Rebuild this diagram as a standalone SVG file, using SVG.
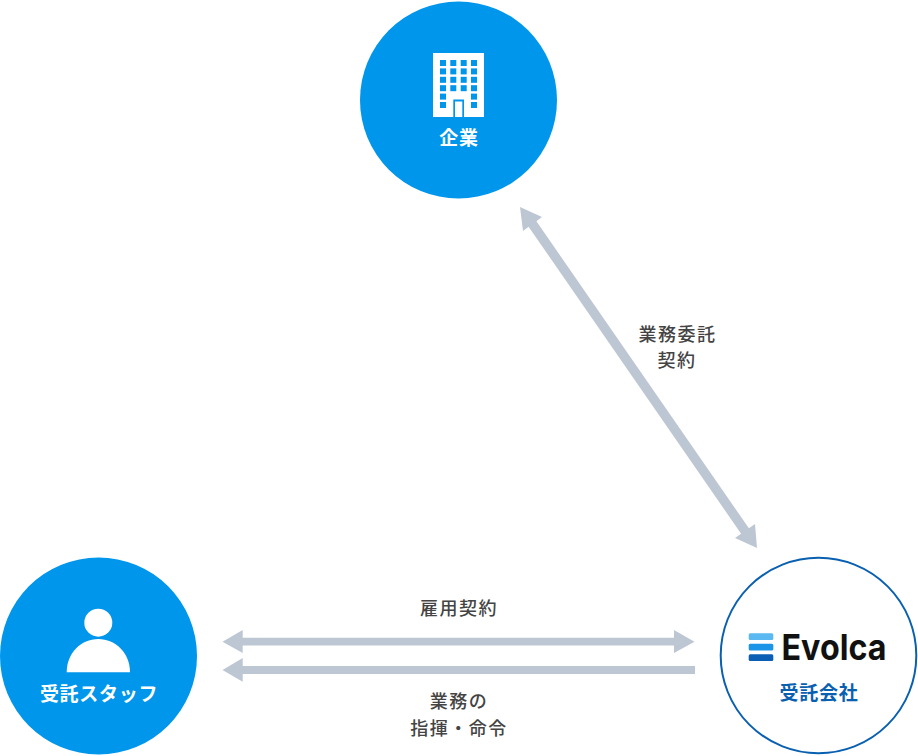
<svg xmlns="http://www.w3.org/2000/svg" width="918" height="756" viewBox="0 0 918 756">
<style>
text{font-family:"Noto Sans CJK JP","Noto Sans",sans-serif;text-anchor:middle}
.n{font-size:19px;font-weight:700;letter-spacing:0.700px;fill:#fff}
.l{font-size:18px;font-weight:500;letter-spacing:1.500px;fill:#444}
.c{fill:#0096ec}
.a{fill:#bdc7d4}
.w{fill:#fff}
</style>
<rect width="918" height="756" fill="#fff"/>
<g id="connectors">
<path class="a" d="M520 207L542 217L536.400 221.300L748.900 528.300L755 524L757 548L735 538L741.100 533.700L528.600 226.700L523 231Z"/>
<path class="a" d="M222.500 641.700L242.700 630V637.700H674V630L694.500 641.700L674 653V645.600H242.700V653Z"/>
<path class="a" d="M222.500 670L242.700 658V666H695V674H242.700V681.700Z"/>
</g>
<g id="kigyo">
<circle class="c" cx="458.500" cy="100" r="98.500"/>
<rect class="w" x="433" y="53" width="51" height="64"/>
<g class="c">
<rect x="440" y="60" width="6" height="6"/><rect x="450.300" y="60" width="6" height="6"/><rect x="460.700" y="60" width="6" height="6"/><rect x="471" y="60" width="6" height="6"/>
<rect x="440" y="68.400" width="6" height="6"/><rect x="450.300" y="68.400" width="6" height="6"/><rect x="460.700" y="68.400" width="6" height="6"/><rect x="471" y="68.400" width="6" height="6"/>
<rect x="440" y="76.800" width="6" height="6"/><rect x="450.300" y="76.800" width="6" height="6"/><rect x="460.700" y="76.800" width="6" height="6"/><rect x="471" y="76.800" width="6" height="6"/>
<rect x="440" y="85.200" width="6" height="6"/><rect x="450.300" y="85.200" width="6" height="6"/><rect x="460.700" y="85.200" width="6" height="6"/><rect x="471" y="85.200" width="6" height="6"/>
<rect x="440" y="93.600" width="6" height="6"/><rect x="471" y="93.600" width="6" height="6"/>
<rect x="440" y="102" width="6" height="6"/><rect x="471" y="102" width="6" height="6"/>
<rect x="453.300" y="99.500" width="10.700" height="17.500"/>
</g>
<rect class="w" x="455" y="101.500" width="7.300" height="15.500"/>
<text class="n" x="459" y="144.500">企業</text>
</g>
<g id="staff">
<circle class="c" cx="98.500" cy="656" r="98.500"/>
<circle class="w" cx="98.300" cy="622.700" r="14"/>
<path class="w" d="M66.700 672.300C66.700 653 81 639 98.300 639S130 653 130 672.300Z"/>
<text class="n" x="99" y="700.500">受託スタッフ</text>
</g>
<g id="evolca">
<circle cx="818.500" cy="655.500" r="97.800" fill="#fff" stroke="#0a60b0" stroke-width="2"/>
<rect x="748.700" y="633.300" width="24.600" height="6.700" rx="1.500" fill="#5cb8f0"/>
<rect x="748.700" y="643.800" width="24.600" height="6.700" rx="1.500" fill="#1c95e8"/>
<rect x="748.700" y="654.300" width="24.600" height="6.700" rx="1.500" fill="#0a5fb4"/>
<text x="834" y="660" textLength="105" lengthAdjust="spacingAndGlyphs" style="font-family:Inter,'Noto Sans',sans-serif;font-size:36px;font-weight:700;fill:#111">Evolca</text>
<text class="n" x="819" y="699.500" style="fill:#0a60b0">受託会社</text>
</g>
<g id="labels">
<text class="l" x="677.500" y="340.500">業務委託</text>
<text class="l" x="677" y="367">契約</text>
<text class="l" x="459" y="615">雇用契約</text>
<text class="l" x="459" y="708">業務の</text>
<text class="l" x="459" y="735">指揮・命令</text>
</g>
</svg>
